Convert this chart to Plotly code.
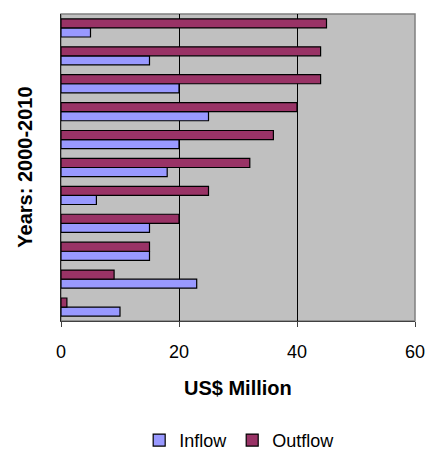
import plotly.graph_objects as go

years = ["2000", "2001", "2002", "2003", "2004", "2005", "2006", "2007", "2008", "2009", "2010"]
inflow = [10, 23, 15, 15, 6, 18, 20, 25, 20, 15, 5]
outflow = [1, 9, 15, 20, 25, 32, 36, 40, 44, 44, 45]
x_ticks = [0, 20, 40, 60]

FONT = "Liberation Sans, Arial, sans-serif"

fig = go.Figure()
fig.add_trace(go.Bar(y=years, x=inflow, name="Inflow", orientation="h",
                     marker=dict(color="#9999FF", line=dict(color="black", width=1.2))))
fig.add_trace(go.Bar(y=years, x=outflow, name="Outflow", orientation="h",
                     marker=dict(color="#993366", line=dict(color="black", width=1.2))))

fig.update_layout(
    width=428, height=454,
    margin=dict(l=61, r=13, t=14, b=133),
    paper_bgcolor="white",
    plot_bgcolor="#C0C0C0",
    barmode="group",
    bargap=0.35,
    bargroupgap=0,
    font=dict(family=FONT, color="black"),
    showlegend=True,
    legend=dict(orientation="h", xref="container", yref="container",
                x=0.56, xanchor="center", y=0.03, yanchor="middle",
                bgcolor="rgba(0,0,0,0)",
                font=dict(size=18, family=FONT), traceorder="normal",
                itemwidth=30),
    xaxis=dict(range=[0, 60], tickvals=x_ticks, showgrid=True, gridcolor="black", gridwidth=1,
               zeroline=False, showline=True, linecolor="#404040", linewidth=1,
               ticks="outside", ticklen=5, tickcolor="#404040",
               ticklabelstandoff=9, automargin=False,
               tickfont=dict(size=18, family=FONT)),
    yaxis=dict(showticklabels=False, showgrid=False, zeroline=False, automargin=False,
               showline=True, linecolor="#202020", linewidth=1, ticks="",
               categoryorder="array", categoryarray=years),
    annotations=[
        dict(text="<b>US$ Million</b>", xref="paper", yref="paper", x=0.5, y=-0.217,
             xanchor="center", yanchor="middle", showarrow=False,
             font=dict(size=20, family=FONT)),
        dict(text="<b>Years: 2000-2010</b>", xref="paper", yref="paper", x=-0.104, y=0.50,
             xanchor="center", yanchor="middle", showarrow=False, textangle=-90,
             font=dict(size=20, family=FONT)),
    ],
)
fig.add_shape(type="rect", xref="paper", yref="paper", x0=0, x1=1, y0=0, y1=1,
              line=dict(color="#808080", width=1.5), layer="below")

fig.write_html("out.html", config={"displayModeBar": False},
               post_script="document.body.style.margin='0';document.body.style.overflow='hidden';")
